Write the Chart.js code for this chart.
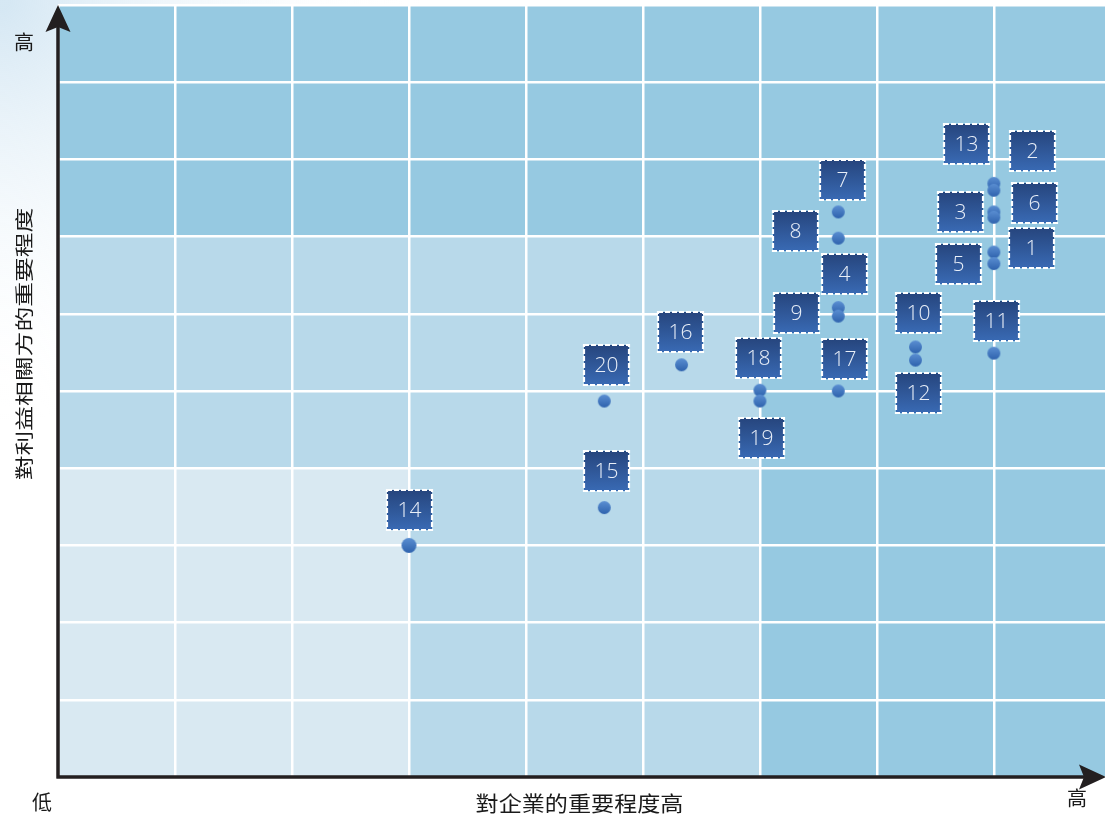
<!DOCTYPE html>
<html>
<head>
<meta charset="utf-8">
<script src="https://cdn.jsdelivr.net/npm/chart.js@4.4.1/dist/chart.umd.min.js"></script>
<style>
  html, body { margin: 0; padding: 0; background: #fff; overflow: hidden; }
  #wrap { width: 1105px; height: 820px; position: relative; }
</style>
</head>
<body>
<div id="wrap"><canvas id="matrix"></canvas></div>
<script>
// Issue numbers and their scores (x: importance to the company, y: importance to stakeholders)
const topics = ['1', '2', '3', '4', '5', '6', '7', '8', '9', '10',
                '11', '12', '13', '14', '15', '16', '17', '18', '19', '20'];
const companyScore = [8.0, 8.0, 8.0, 6.67, 8.0, 8.0, 6.67, 6.67, 6.67, 7.33,
                      8.0, 7.33, 8.0, 3.0, 4.67, 5.33, 6.67, 6.0, 6.0, 4.67];
const stakeholderScore = [6.8, 7.69, 7.32, 6.08, 6.65, 7.25, 7.32, 6.98, 5.97, 5.57,
                          5.49, 5.4, 7.6, 3.0, 3.49, 5.34, 5.0, 5.01, 4.87, 4.87];

const xTitle = '對企業的重要程度高';
const yTitle = '對利益相關方的重要程度';
const lowLabel = '低';
const highLabel = '高';

// where each numbered box sits relative to its dot (px)
const boxOffsets = [
  [37.5, -4.5], [38.5, -32], [-33.5, 0], [6, -34], [-35.5, 0],
  [40.5, -14.5], [4.5, -32], [-42.5, -7], [-42, -3], [3, -34],
  [3, -32], [3.5, 33], [-27.5, -46], [0.5, -35], [2.5, -36.5],
  [-1, -32.5], [6, -32], [-1, -32], [2, 37], [2.5, -36.5]
];

const ZONE_DARK = '#96c9e1';
const ZONE_MID = '#b8d9ea';
const ZONE_LIGHT = '#d9e9f2';

function makeDot(r) {
  const size = Math.ceil(r * 2 + 2);
  const c = document.createElement('canvas');
  c.width = size; c.height = size;
  const g = c.getContext('2d');
  const grad = g.createLinearGradient(0, 1, 0, size - 1);
  grad.addColorStop(0, '#5b8fd2');
  grad.addColorStop(1, '#2e62ad');
  g.fillStyle = grad;
  g.beginPath();
  g.arc(size / 2, size / 2, r, 0, Math.PI * 2);
  g.fill();
  return c;
}
const dotSmall = makeDot(6.5);
const dotBig = makeDot(7.5);

const points = topics.map((t, i) => ({ x: companyScore[i], y: stakeholderScore[i] }));

// shaded zones, white page wash, axis arrows, titles, numbered boxes
const matrixPlugin = {
  id: 'matrix',
  beforeDraw(chart) {
    const ctx = chart.ctx;
    const { x, y } = chart.scales;
    const area = chart.chartArea;
    ctx.save();
    const wash = ctx.createRadialGradient(0, 0, 10, 0, 0, 420);
    wash.addColorStop(0, 'rgba(200,224,240,0.75)');
    wash.addColorStop(1, 'rgba(255,255,255,0)');
    ctx.fillStyle = wash;
    ctx.fillRect(0, 0, chart.width, chart.height);

    ctx.fillStyle = ZONE_DARK;
    ctx.fillRect(area.left, area.top, area.right - area.left, area.bottom - area.top);
    ctx.fillStyle = ZONE_MID;
    ctx.fillRect(x.getPixelForValue(0), y.getPixelForValue(7),
                 x.getPixelForValue(6) - x.getPixelForValue(0),
                 y.getPixelForValue(0) - y.getPixelForValue(7));
    ctx.fillStyle = ZONE_LIGHT;
    ctx.fillRect(x.getPixelForValue(0), y.getPixelForValue(4),
                 x.getPixelForValue(3) - x.getPixelForValue(0),
                 y.getPixelForValue(0) - y.getPixelForValue(4));
    ctx.restore();
  },
  afterDatasetsDraw(chart) {
    const ctx = chart.ctx;
    const meta = chart.getDatasetMeta(0);
    const w = 45, h = 40;
    ctx.save();
    meta.data.forEach((pt, i) => {
      const cx = pt.x + boxOffsets[i][0];
      const cy = pt.y + boxOffsets[i][1];
      const left = Math.round(cx - w / 2), top = Math.round(cy - h / 2);
      const grad = ctx.createLinearGradient(0, top, 0, top + h);
      grad.addColorStop(0, '#26457d');
      grad.addColorStop(1, '#396ab4');
      ctx.fillStyle = grad;
      ctx.fillRect(left, top, w, h);
      ctx.setLineDash([5, 2]);
      ctx.lineWidth = 2.2;
      ctx.strokeStyle = '#ffffff';
      ctx.strokeRect(left, top, w, h);
      ctx.setLineDash([]);
      ctx.fillStyle = '#e9eff8';
      ctx.font = '300 21px "Open Sans", sans-serif';
      ctx.textAlign = 'center';
      ctx.textBaseline = 'middle';
      ctx.fillText(topics[i], left + w / 2, top + h / 2 + 1);
    });
    ctx.restore();
  },
  afterDraw(chart) {
    const ctx = chart.ctx;
    const area = chart.chartArea;
    const ox = area.left, oy = area.bottom;
    ctx.save();
    ctx.strokeStyle = '#231f20';
    ctx.fillStyle = '#231f20';
    ctx.lineWidth = 3.5;
    ctx.beginPath();
    ctx.moveTo(ox, oy + 1.5);
    ctx.lineTo(ox, area.top + 20);
    ctx.moveTo(ox - 1.5, oy);
    ctx.lineTo(chart.width - 20, oy);
    ctx.stroke();

    // arrow heads
    ctx.beginPath();
    ctx.moveTo(ox, 5);
    ctx.lineTo(ox + 12.5, 32);
    ctx.lineTo(ox, 27);
    ctx.lineTo(ox - 12.5, 32);
    ctx.closePath();
    ctx.fill();
    ctx.beginPath();
    ctx.moveTo(chart.width + 1, oy);
    ctx.lineTo(chart.width - 26, oy - 12.5);
    ctx.lineTo(chart.width - 21, oy);
    ctx.lineTo(chart.width - 26, oy + 12.5);
    ctx.closePath();
    ctx.fill();

    ctx.fillStyle = '#1a1a1a';
    ctx.textAlign = 'center';
    ctx.textBaseline = 'middle';
    ctx.font = '20px "Noto Sans CJK TC", sans-serif';
    ctx.fillText(highLabel, 24, 42);
    ctx.fillText(lowLabel, 42, 802);
    ctx.fillText(highLabel, 1077, 798);

    ctx.save();
    ctx.translate((area.left + area.right) / 2 - 2, 803);
    ctx.scale(1.1, 1);
    ctx.font = '21px "Noto Sans CJK TC", sans-serif';
    ctx.fillText(xTitle, 0, 0);
    ctx.restore();

    ctx.save();
    ctx.translate(24, 344);
    ctx.rotate(-Math.PI / 2);
    ctx.scale(1.34, 1);
    ctx.font = '18.5px "Noto Sans CJK TC", sans-serif';
    ctx.fillText(yTitle, 0, 0);
    ctx.restore();
    ctx.restore();
  }
};

function keepWholeTicks(scale) {
  scale.ticks = scale.ticks.filter(t => Number.isInteger(t.value));
}

const ctx = document.getElementById('matrix').getContext('2d');
const chart = new Chart(ctx, {
  type: 'scatter',
  data: {
    datasets: [{
      label: 'topics',
      data: points,
      pointStyle: c => (topics[c.dataIndex] === '14' ? dotBig : dotSmall),
      pointRadius: 7
    }]
  },
  options: {
    responsive: true,
    maintainAspectRatio: false,
    animation: false,
    layout: { autoPadding: false, padding: { left: 58, top: 5, right: 0, bottom: 43 } },
    plugins: {
      legend: { display: false },
      tooltip: { enabled: false }
    },
    scales: {
      x: {
        type: 'linear',
        min: 0,
        max: 8.95,
        afterBuildTicks: keepWholeTicks,
        ticks: { display: false, stepSize: 1 },
        grid: { color: '#ffffff', lineWidth: 2.5, drawTicks: false },
        border: { display: false }
      },
      y: {
        type: 'linear',
        min: 0,
        max: 10,
        afterBuildTicks: keepWholeTicks,
        ticks: { display: false, stepSize: 1 },
        grid: { color: '#ffffff', lineWidth: 2.5, drawTicks: false },
        border: { display: false }
      }
    }
  },
  plugins: [matrixPlugin]
});
</script>
</body>
</html>
